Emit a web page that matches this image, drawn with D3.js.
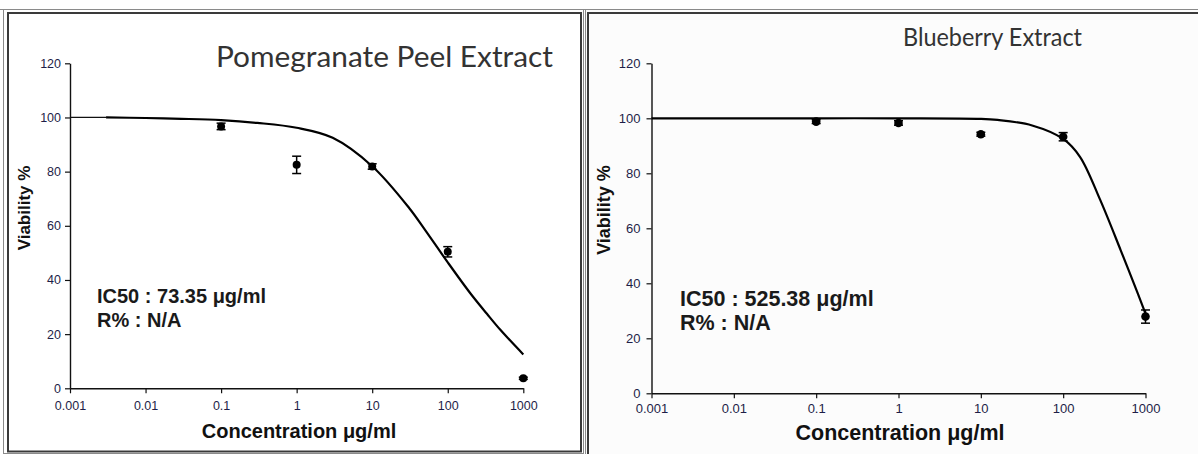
<!DOCTYPE html>
<html>
<head>
<meta charset="utf-8">
<script src="https://cdn.jsdelivr.net/npm/d3@7"></script>
<style>
  html, body { margin: 0; padding: 0; background: #ffffff; }
  svg { display: block; }
</style>
</head>
<body>
<svg id="chart" width="1198" height="454"></svg>
<script>
// ---------------- data ----------------
const xTickValues = [0.001, 0.01, 0.1, 1, 10, 100, 1000];
const xTickLabels = ["0.001", "0.01", "0.1", "1", "10", "100", "1000"];
const yTickValues = [0, 20, 40, 60, 80, 100, 120];
const yTickLabels = ["0", "20", "40", "60", "80", "100", "120"];

const pomTitle = "Pomegranate Peel Extract";
const pomConc = [0.1, 1, 10, 100, 1000];
const pomViability = [96.7, 82.5, 81.9, 50.4, 3.7];
const pomError = [1.2, 3.2, 1.0, 1.9, 0.4];
const pomFitConc = [0.003, 0.01, 0.03, 0.1, 0.3, 1, 3, 10, 31, 50, 100, 200, 330, 500, 1000];
const pomFitViability = [100, 99.8, 99.5, 99.0, 98.0, 96.2, 92.5, 82, 66.5, 58.5, 46.5, 35, 27.5, 21.5, 12.5];
const pomNotes = ["IC50 : 73.35 \u03BCg/ml", "R% : N/A"];

const bluTitle = "Blueberry Extract";
const bluConc = [0.1, 1, 10, 100, 1000];
const bluViability = [98.8, 98.3, 94.2, 93.3, 27.9];
const bluError = [0.7, 0.8, 0.7, 1.5, 2.4];
const bluFitConc = [0.001, 0.01, 0.1, 1, 10, 16, 42, 100, 160, 280, 500, 700, 1000];
const bluFitViability = [100, 100, 100, 100, 99.8, 99.4, 97.4, 92.5, 86, 70.5, 52, 41, 29];
const bluNotes = ["IC50 : 525.38 \u03BCg/ml", "R% : N/A"];

const xTitle = "Concentration \u03BCg/ml";
const yTitle = "Viability %";

// ---------------- drawing ----------------
const svg = d3.select("#chart");

// frames
svg.append("rect").attr("x", 585.5).attr("y", 9.5).attr("width", 620).attr("height", 450)
  .attr("fill", "#fcfcfc").attr("stroke", "#8a8a8a").attr("stroke-width", 1);
svg.append("rect").attr("x", 588).attr("y", 13).attr("width", 620).attr("height", 450)
  .attr("fill", "none").attr("stroke", "#3a3a3a").attr("stroke-width", 2);
svg.append("line").attr("x1", 0).attr("x2", 1198).attr("y1", 9.5).attr("y2", 9.5)
  .attr("stroke", "#8a8a8a").attr("stroke-width", 1);
svg.append("rect").attr("x", 3.5).attr("y", 9.5).attr("width", 580).attr("height", 444)
  .attr("fill", "#ffffff").attr("stroke", "#8a8a8a").attr("stroke-width", 1);
svg.append("rect").attr("x", 8).attr("y", 13).attr("width", 573).attr("height", 438.5)
  .attr("fill", "none").attr("stroke", "#3a3a3a").attr("stroke-width", 2);

function drawPanel(cfg) {
  const x = d3.scaleLog().domain([xTickValues[0], xTickValues[xTickValues.length - 1]]).range(cfg.xRange);
  const y = d3.scaleLinear().domain([yTickValues[0], yTickValues[yTickValues.length - 1]]).range(cfg.yRange);
  const g = svg.append("g");

  // x axis
  const xa = g.append("g").attr("transform", `translate(0,${cfg.yRange[0]})`)
    .call(d3.axisBottom(x).tickValues(xTickValues)
      .tickFormat((d, i) => xTickLabels[i]).tickSize(5).tickSizeOuter(0).tickPadding(cfg.xPad));
  // y axis
  const ya = g.append("g").attr("transform", `translate(${cfg.xRange[0]},0)`)
    .call(d3.axisLeft(y).tickValues(yTickValues)
      .tickFormat((d, i) => yTickLabels[i]).tickSize(5).tickSizeOuter(0).tickPadding(cfg.yPad));
  [xa, ya].forEach(a => {
    a.select(".domain").attr("stroke", "#111").attr("stroke-width", 1.4);
    a.selectAll(".tick line").attr("stroke", "#111").attr("stroke-width", 1.2);
    a.selectAll(".tick text").attr("fill", "#1e1e48")
      .attr("font-family", "'Liberation Sans', Arial, sans-serif")
      .attr("font-size", cfg.tickFont);
  });

  // thin lead-in line at plateau (pomegranate only)
  if (cfg.leadIn) {
    g.append("line")
      .attr("x1", x(xTickValues[0])).attr("x2", x(cfg.fitX[0]))
      .attr("y1", y(cfg.fitY[0])).attr("y2", y(cfg.fitY[0]))
      .attr("stroke", "#111").attr("stroke-width", 1.2);
  }

  // fitted curve
  const line = d3.line().x(d => x(d[0])).y(d => y(d[1])).curve(d3.curveCatmullRom.alpha(0.5));
  g.append("path").datum(cfg.fitX.map((c, i) => [c, cfg.fitY[i]]))
    .attr("d", line).attr("fill", "none").attr("stroke", "#000").attr("stroke-width", 2.2)
    .attr("stroke-linejoin", "round");

  // error bars + points
  const pts = cfg.conc.map((c, i) => ({ c, v: cfg.vals[i], e: cfg.err[i] }));
  const eb = g.append("g");
  pts.forEach(p => {
    eb.append("line").attr("x1", x(p.c)).attr("x2", x(p.c))
      .attr("y1", y(p.v - p.e)).attr("y2", y(p.v + p.e)).attr("stroke", "#000").attr("stroke-width", 1.5);
    [p.v - p.e, p.v + p.e].forEach(v => {
      eb.append("line").attr("x1", x(p.c) - 4.5).attr("x2", x(p.c) + 4.5)
        .attr("y1", y(v)).attr("y2", y(v)).attr("stroke", "#000").attr("stroke-width", 1.5);
    });
  });
  g.append("g").selectAll("circle").data(pts).join("circle")
    .attr("cx", d => x(d.c)).attr("cy", d => y(d.v)).attr("r", cfg.r).attr("fill", "#000");

  // titles
  g.append("text").attr("x", cfg.titleX).attr("y", cfg.titleY)
    .attr("font-family", "Lato, 'Open Sans', sans-serif").attr("font-size", cfg.titleFont)
    .attr("fill", "#333").attr("textLength", cfg.titleW).attr("lengthAdjust", "spacingAndGlyphs")
    .text(cfg.title);

  g.append("text").attr("x", cfg.xTitleX).attr("y", cfg.xTitleY).attr("text-anchor", "middle")
    .attr("font-family", "'Liberation Sans', Arial, sans-serif").attr("font-weight", "bold")
    .attr("font-size", cfg.xTitleFont).attr("fill", "#111").text(xTitle);

  g.append("text").attr("transform", `translate(${cfg.yTitleX},${cfg.yTitleY}) rotate(-90)`)
    .attr("text-anchor", "middle")
    .attr("font-family", "'Liberation Sans', Arial, sans-serif").attr("font-weight", "bold")
    .attr("font-size", cfg.yTitleFont).attr("fill", "#111").text(yTitle);

  cfg.notes.forEach((t, i) => {
    g.append("text").attr("x", cfg.noteX).attr("y", cfg.noteY + i * cfg.noteGap)
      .attr("font-family", "'Liberation Sans', Arial, sans-serif").attr("font-weight", "bold")
      .attr("font-size", cfg.noteFont).attr("fill", "#1a1a1a").text(t);
  });
}

drawPanel({
  xRange: [70, 523.3], yRange: [388.3, 63.3],
  xPad: 8, yPad: 4, tickFont: 12.5,
  conc: pomConc, vals: pomViability, err: pomError,
  fitX: pomFitConc, fitY: pomFitViability, leadIn: true, r: 4,
  title: pomTitle, titleX: 216, titleY: 66.5, titleFont: 29, titleW: 337,
  xTitleX: 299, xTitleY: 438, xTitleFont: 20,
  yTitleX: 30, yTitleY: 208, yTitleFont: 17,
  notes: pomNotes, noteX: 97, noteY: 303, noteGap: 24, noteFont: 20
});

drawPanel({
  xRange: [651.5, 1145.5], yRange: [393.3, 63.3],
  xPad: 5, yPad: 6, tickFont: 13,
  conc: bluConc, vals: bluViability, err: bluError,
  fitX: bluFitConc, fitY: bluFitViability, leadIn: false, r: 4.3,
  title: bluTitle, titleX: 903, titleY: 45.5, titleFont: 24.5, titleW: 179,
  xTitleX: 900, xTitleY: 440, xTitleFont: 21.5,
  yTitleX: 610, yTitleY: 210, yTitleFont: 18,
  notes: bluNotes, noteX: 680, noteY: 306, noteGap: 24, noteFont: 21.5
});
</script>
</body>
</html>
